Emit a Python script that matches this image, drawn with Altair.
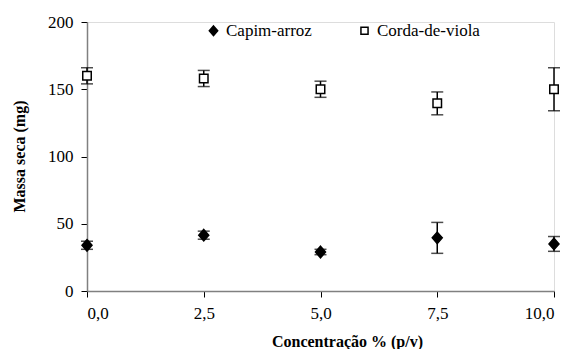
import altair as alt
import pandas as pd

conc = [0.0, 2.5, 5.0, 7.5, 10.0]
capim_mean = [34, 41.5, 29, 39.5, 35]
capim_err = [3, 3, 2, 11.5, 5.5]
corda_mean = [160, 158, 150, 139.5, 150]
corda_err = [6, 6, 6, 8.5, 16]
series = ["Capim-arroz", "Corda-de-viola"]

rows = []
for c, m, e in zip(conc, capim_mean, capim_err):
    rows.append({"serie": series[0], "conc": c, "mean": m, "err": e})
for c, m, e in zip(conc, corda_mean, corda_err):
    rows.append({"serie": series[1], "conc": c, "mean": m, "err": e})
df = pd.DataFrame(rows)

FONT = "Times New Roman"
DIAMOND = "M0,-1.15L1,0L0,1.15L-1,0Z"
SQUARE = "M-0.85,-0.85L0.85,-0.85L0.85,0.85L-0.85,0.85Z"

axis_common = dict(
    labelFont=FONT,
    titleFont=FONT,
    labelFontSize=17,
    titleFontSize=16,
    titleFontWeight="bold",
    labelColor="black",
    titleColor="black",
    domainColor="#808080",
    domainWidth=1.5,
    tickColor="black",
    tickWidth=1,
    grid=False,
    tickSize=6,
)

base = alt.Chart(df).transform_calculate(
    lo="datum.mean - datum.err", hi="datum.mean + datum.err"
)

xenc = alt.X(
    "conc:Q",
    scale=alt.Scale(domain=[0, 10], nice=False),
    axis=alt.Axis(
        values=conc,
        labelExpr="replace(format(datum.value, '.1f'), '.', ',')",
        title="Concentração % (p/v)",
        labelPadding=8,
        titleX=260,
        titleY=42,
        **axis_common,
    ),
)

yscale = alt.Scale(domain=[0, 200], nice=False)
yaxis = alt.Axis(
    values=[0, 50, 100, 150, 200],
    title="Massa seca (mg)",
    labelPadding=8,
    titleX=-60,
    titleY=134,
    **axis_common,
)

legend_common = dict(
    orient="none",
    legendX=118,
    legendY=0,
    direction="horizontal",
    labelFont=FONT,
    labelFontSize=17,
    labelColor="black",
    labelOffset=4,
    columnPadding=44,
    symbolStrokeColor="black",
    symbolStrokeWidth=1.5,
    symbolSize=70,
    title=None,
)

rules = base.mark_rule(color="black", strokeWidth=1.5).encode(
    x=xenc, y=alt.Y("lo:Q", scale=yscale, axis=yaxis), y2="hi:Q"
)
caps_lo = base.mark_tick(color="black", orient="horizontal", size=12, thickness=1.5).encode(
    x="conc:Q", y=alt.Y("lo:Q", scale=yscale)
)
caps_hi = base.mark_tick(color="black", orient="horizontal", size=12, thickness=1.5).encode(
    x="conc:Q", y=alt.Y("hi:Q", scale=yscale)
)
points = base.mark_point(strokeWidth=1.5, opacity=1, size=100).encode(
    x="conc:Q",
    y=alt.Y("mean:Q", scale=yscale),
    shape=alt.Shape("serie:N", scale=alt.Scale(domain=series, range=[DIAMOND, SQUARE]),
                    legend=alt.Legend(**legend_common)),
    fill=alt.Fill("serie:N", scale=alt.Scale(domain=series, range=["black", "white"]),
                  legend=alt.Legend(**legend_common)),
    stroke=alt.Stroke("serie:N", scale=alt.Scale(domain=series, range=["black", "black"]),
                      legend=alt.Legend(**legend_common)),
)

chart = alt.layer(rules, caps_lo, caps_hi, points).properties(
    width=467,
    height=269,
    autosize=alt.AutoSizeParams(type="none"),
    padding={"left": 79, "top": 14, "right": 10, "bottom": 58},
)

chart.save("out.html", embed_options={"renderer": "svg", "actions": False})
